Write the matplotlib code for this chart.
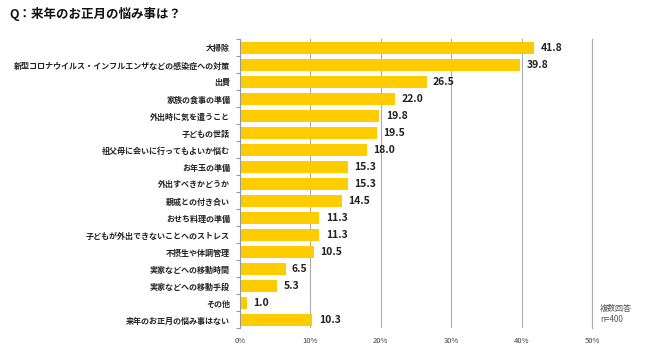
import matplotlib
matplotlib.use("Agg")
import matplotlib.pyplot as plt
from matplotlib.ticker import FixedLocator

plt.rcParams['font.family'] = ['Noto Sans CJK JP', 'DejaVu Sans']

categories = [
    "大掃除",
    "新型コロナウイルス・インフルエンザなどの感染症への対策",
    "出費",
    "家族の食事の準備",
    "外出時に気を遣うこと",
    "子どもの世話",
    "祖父母に会いに行ってもよいか悩む",
    "お年玉の準備",
    "外出すべきかどうか",
    "親戚との付き合い",
    "おせち料理の準備",
    "子どもが外出できないことへのストレス",
    "不摂生や体調管理",
    "実家などへの移動時間",
    "実家などへの移動手段",
    "その他",
    "来年のお正月の悩み事はない",
]
values = [41.8, 39.8, 26.5, 22.0, 19.8, 19.5, 18.0, 15.3, 15.3, 14.5,
          11.3, 11.3, 10.5, 6.5, 5.3, 1.0, 10.3]
x_ticks = [0, 10, 20, 30, 40, 50]
x_tick_labels = ["0%", "10%", "20%", "30%", "40%", "50%"]

fig = plt.figure(figsize=(6.5, 3.59), dpi=100)
ax = fig.add_axes([0.369, 0.085, 0.542, 0.805])

y = list(range(len(categories)))
ax.barh(y, values, height=0.75, color="#FFCC00", zorder=3)
for yi, v in zip(y, values):
    ax.text(v + 0.9, yi, f"{v:.1f}", va="center", ha="left",
            fontsize=7.5, fontweight="bold", color="#222222")

ax.set_ylim(len(categories) - 0.5, -0.5)
ax.set_xlim(0, 50)
ax.set_yticks(y)
ax.set_yticklabels(categories, fontsize=5.8, fontweight="bold", color="#222222")
ax.yaxis.set_minor_locator(FixedLocator([i - 0.5 for i in range(len(categories) + 1)]))
ax.tick_params(axis="y", which="major", length=0, pad=7)
ax.tick_params(axis="y", which="minor", length=3, color="#999999", width=0.8)

ax.set_xticks(x_ticks)
ax.set_xticklabels(x_tick_labels, fontsize=5.5, color="#444444")
ax.tick_params(axis="x", length=0, pad=6)
ax.grid(axis="x", color="#AAAAAA", linewidth=0.8, zorder=0)

for s in ["top", "bottom"]:
    ax.spines[s].set_visible(False)
ax.spines["right"].set_color("#AAAAAA")
ax.spines["right"].set_linewidth(0.8)
ax.spines["left"].set_color("#999999")
ax.spines["left"].set_linewidth(0.8)
ax.spines["left"].set_zorder(4)

fig.text(0.014, 0.96, "Q：来年のお正月の悩み事は？", fontsize=9, fontweight="bold",
         ha="left", va="center", color="#111111")
fig.text(0.923, 0.125, "複数回答\nn=400", fontsize=5.8, ha="left", va="center",
         color="#555555", linespacing=1.3)

fig.savefig("out.png", dpi=100)
